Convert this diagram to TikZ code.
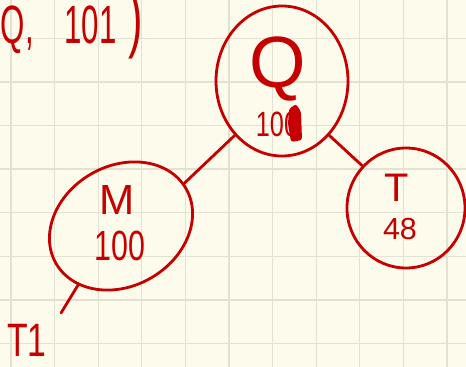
\documentclass[tikz,border=0pt]{standalone}
\usepackage{fontspec}
\setmainfont{Liberation Sans}
\newfontfamily\narrowhand[FakeStretch=0.72]{Liberation Sans}
\newfontfamily\slimhand[FakeStretch=0.58]{Liberation Sans}
\usetikzlibrary{shapes.geometric}
\definecolor{paper}{HTML}{FDFBEC}
\definecolor{gridc}{HTML}{E3E1D2}
\definecolor{ink}{HTML}{C60000}
\tikzset{
  bubble/.style={draw=ink, ellipse, line width=2.4pt, inner sep=0pt},
  edge/.style={draw=ink, line width=2.4pt, line cap=round},
  hand/.style={text=ink, inner sep=0pt, font=\fontsize{#1}{#1}\selectfont},
  narrow/.style={text=ink, inner sep=0pt, font=\narrowhand\fontsize{#1}{#1}\selectfont},
  slim/.style={text=ink, inner sep=0pt, font=\slimhand\fontsize{#1}{#1}\selectfont},
  gridline/.style={draw=gridc, line width=1.1pt},
}
\begin{document}
\begin{tikzpicture}[x=0.03cm, y=-0.03cm]
  \useasboundingbox (0,0) rectangle (466,367);
  \clip (0,0) rectangle (466,367);
  \fill[paper] (0,0) rectangle (466,367);
  % squared paper
  \foreach \gx in {0,...,10}
    \draw[gridline] ({11+43.6*\gx},0) -- ++(0,367);
  \foreach \gy in {0,...,7}
    \draw[gridline] (0,{38.3+43.6*\gy}) -- ++(466,0);
  % update note, cut at the left edge
  \node[slim=46, anchor=base east] (upd) at (143,44)
    {(Q,\hspace{26pt}101\hspace{10pt}{\fontsize{64}{64}\selectfont)}};
  % tree
  \node[bubble, minimum width=3.96cm, minimum height=4.5cm] (q) at (282,81) {};
  \node[bubble, rotate=30, minimum width=4.5cm, minimum height=3.6cm] (m) at (121,226) {};
  \node[bubble, minimum width=3.54cm, minimum height=3.6cm] (t) at (406,208) {};
  \node[hand=62, anchor=base] (qname) at (278,88) {Q};
  \node[narrow=30, anchor=base] (qkey) at (277,137) {100};
  \fill[ink, rounded corners=2pt] (289,109) -- (296,104) -- (301,112) -- (302,140) -- (291,142) -- (288,124) -- cycle;
  \node[hand=36, anchor=base] (mname) at (117,215) {M};
  \node[narrow=36, anchor=base] (mkey) at (120,260) {100};
  \node[hand=34, anchor=base] (tname) at (397,202) {T};
  \node[hand=26, anchor=base] (tkey) at (400,240) {48};
  \node[narrow=40, anchor=base] (tone) at (27,357) {T1};
  \coordinate (tailend) at (61,313);
  \draw[edge] (m.4) -- (q.229);
  \draw[edge] (q.311) -- (t.136);
  \draw[edge] (m.204) -- (tailend);
\end{tikzpicture}
\end{document}
